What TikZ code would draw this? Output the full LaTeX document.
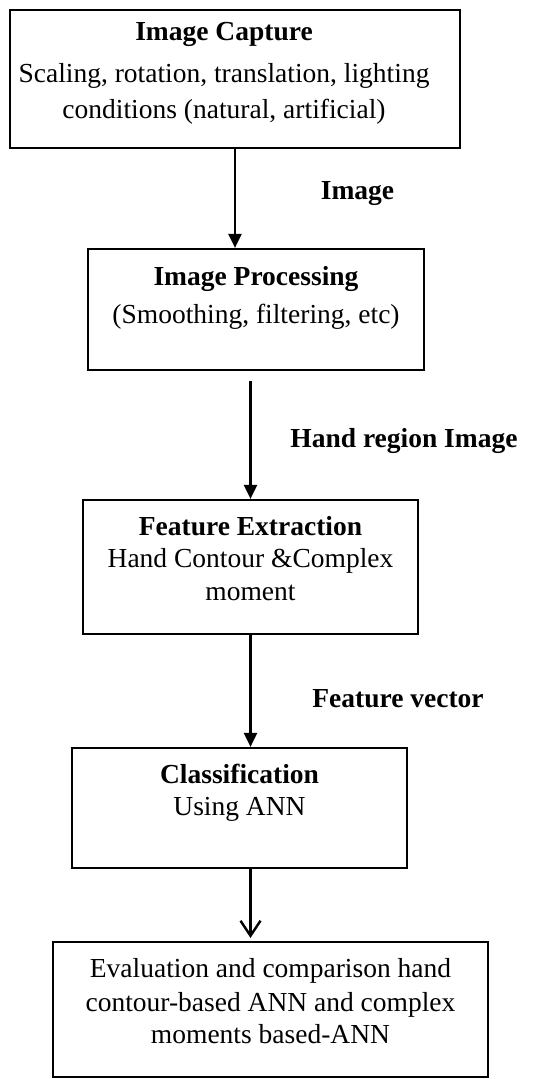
\documentclass[tikz,border=0pt]{standalone}
\usepackage{fontspec}
\setmainfont{Liberation Serif}
\usetikzlibrary{arrows.meta}
\begin{document}
\begin{tikzpicture}[x=1pt,y=-1pt,
  box/.style={draw, line width=2.2pt, inner sep=0pt},
  txt/.style={anchor=base, inner sep=0pt, font=\fontsize{27.5}{33}\selectfont},
  ttl/.style={anchor=base, inner sep=0pt, font=\fontsize{27.5}{33}\selectfont\bfseries},
  arr/.style={line width=2.4pt, -{Triangle[length=14pt,width=13pt]}},
  oarr/.style={line width=2.4pt, -{Straight Barb[length=15pt,width=20pt]}, shorten >=3pt},
  ]
\useasboundingbox[fill=white] (0,0) rectangle (541,1079);
% boxes
\node[box, minimum width=450pt, minimum height=138pt] (b1) at (235,79) {};
\node[box, minimum width=336pt, minimum height=121pt] (b2) at (256,309.5) {};
\node[box, minimum width=335pt, minimum height=134pt] (b3) at (250.5,567) {};
\node[box, minimum width=335pt, minimum height=120pt] (b4) at (239.5,808) {};
\node[box, minimum width=435pt, minimum height=135pt] (b5) at (270.5,1009.5) {};
% box texts
\node[ttl] (t1a) at (224,40) {Image Capture};
\node[txt] (t1b) at (224,82) {Scaling, rotation, translation, lighting};
\node[txt] (t1c) at (224,118) {conditions (natural, artificial)};
\node[ttl] (t2a) at (256,285) {Image Processing};
\node[txt] (t2b) at (256,323) {(Smoothing, filtering, etc)};
\node[ttl] (t3a) at (250.5,535) {Feature Extraction};
\node[txt] (t3b) at (250.5,567) {Hand Contour \&Complex};
\node[txt] (t3c) at (250.5,600) {moment};
\node[ttl] (t4a) at (239.5,783) {Classification};
\node[txt] (t4b) at (239.5,815) {Using ANN};
\node[txt] (t5a) at (270.5,977) {Evaluation and comparison hand};
\node[txt] (t5b) at (270.5,1011) {contour-based ANN and complex};
\node[txt] (t5c) at (270.5,1043) {moments based-ANN};
% connector labels
\node[ttl] (l1) at (357.5,199) {Image};
\node[ttl] (l2) at (404,447) {Hand region Image};
\node[ttl] (l3) at (398,707) {Feature vector};
% connectors
\draw[arr] (b1.south) -- (b1.south |- b2.north);
\draw[arr, shorten <=10pt] (b2.south -| b3.north) -- (b3.north);
\draw[arr] (b3.south) -- (b3.south |- b4.north);
\draw[oarr] (b4.south -| b3.south) -- (b3.south |- b5.north);
\end{tikzpicture}
\end{document}
